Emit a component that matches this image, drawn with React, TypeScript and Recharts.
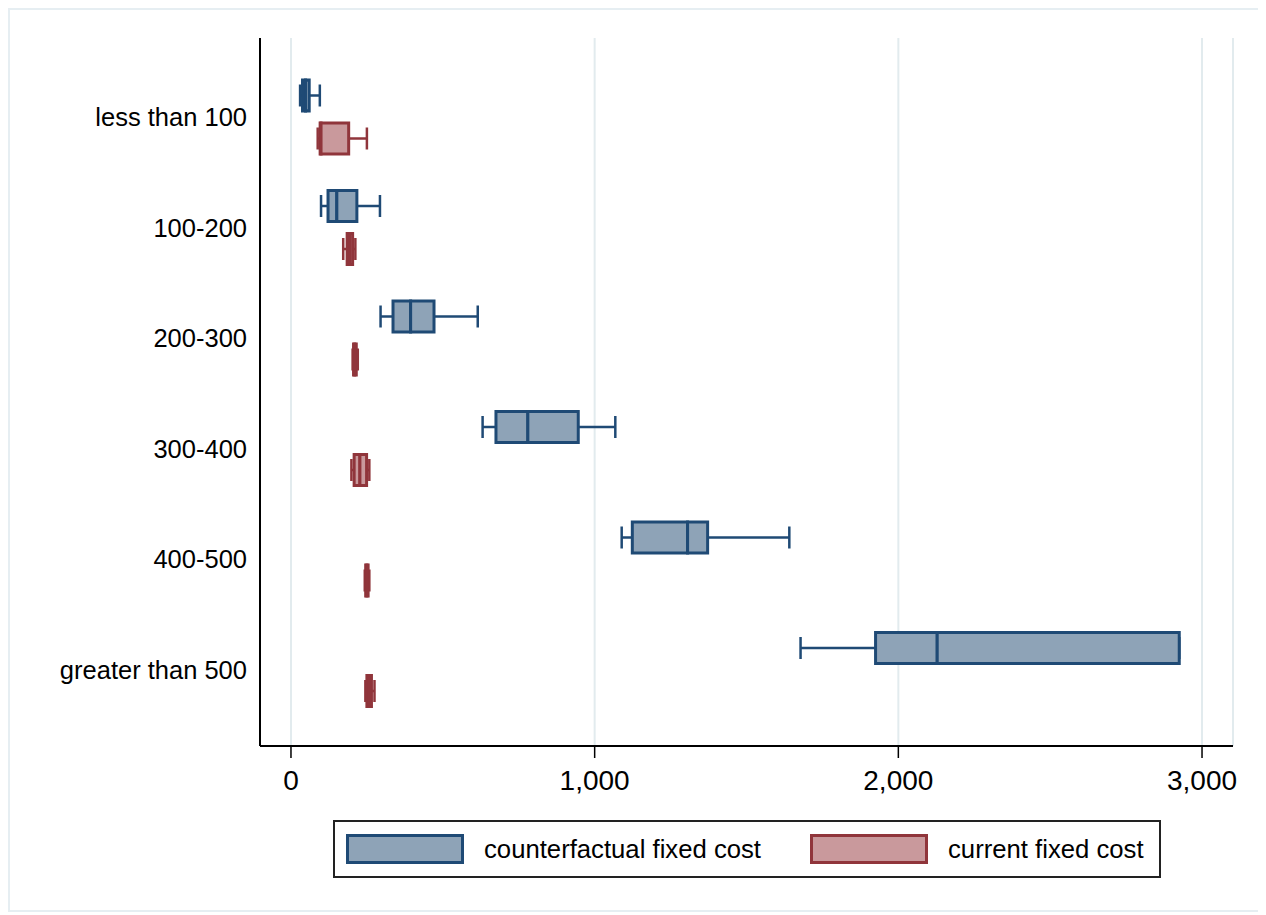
import React from 'react';
import { ComposedChart, Bar, XAxis, YAxis, CartesianGrid } from 'recharts';

// fixed cost by size group, box summaries (min / q1 / median / q3 / max)
const groups = ['less than 100', '100-200', '200-300', '300-400', '400-500', 'greater than 500'];

const cfMin = [30, 99, 295, 631, 1089, 1678];
const cfQ1 = [38, 122, 336, 675, 1124, 1925];
const cfMed = [48, 151, 394, 780, 1306, 2128];
const cfQ3 = [60, 217, 471, 946, 1372, 2925];
const cfMax = [95, 293, 615, 1068, 1641, 2925];

const curMin = [88, 172, 203, 199, 243, 245];
const curQ1 = [96, 185, 206, 208, 246, 250];
const curMed = [99, 193, 210, 227, 250, 258];
const curQ3 = [190, 203, 215, 249, 254, 265];
const curMax = [250, 212, 220, 258, 258, 275];

const xTicks = [0, 1000, 2000, 3000];

const CF_NAME = 'counterfactual fixed cost';
const CUR_NAME = 'current fixed cost';

const BLUE = { stroke: '#1f4a75', fill: '#8ea3b7' };
const RED = { stroke: '#90353b', fill: '#c9999c' };

const FONT = '"Liberation Sans", Arial, sans-serif';

// stacked segments: hidden base, low whisker, lower box, upper box, high whisker
const data = groups.map((g, i) => ({
  group: g,
  cfBase: cfMin[i],
  cfLow: cfQ1[i] - cfMin[i],
  cfBoxA: cfMed[i] - cfQ1[i],
  cfBoxB: cfQ3[i] - cfMed[i],
  cfHigh: cfMax[i] - cfQ3[i],
  curBase: curMin[i],
  curLow: curQ1[i] - curMin[i],
  curBoxA: curMed[i] - curQ1[i],
  curBoxB: curQ3[i] - curMed[i],
  curHigh: curMax[i] - curQ3[i],
}));

const CAP = 11;

const Empty = () => <g />;

const boxShape = (c: { stroke: string; fill: string }) => (p: any) => (
  <rect x={p.x} y={p.y} width={Math.max(p.width, 0)} height={p.height} fill={c.fill} stroke={c.stroke} strokeWidth={3} />
);

const whiskerShape = (c: { stroke: string }, side: 'low' | 'high') => (p: any) => {
  const cy = p.y + p.height / 2;
  const capX = side === 'low' ? p.x : p.x + p.width;
  return (
    <g stroke={c.stroke} strokeWidth={2.5}>
      <line x1={p.x} x2={p.x + p.width} y1={cy} y2={cy} />
      <line x1={capX} x2={capX} y1={cy - CAP} y2={cy + CAP} />
    </g>
  );
};

const fmt = (v: number) => v.toLocaleString('en-US');

function LegendItem({ color, label }: { color: { stroke: string; fill: string }; label: string }) {
  return (
    <div style={{ display: 'flex', alignItems: 'center' }}>
      <div style={{ width: 112, height: 24, background: color.fill, border: `3px solid ${color.stroke}` }} />
      <span style={{ marginLeft: 20, fontSize: 25.7, fontFamily: FONT, color: '#000' }}>{label}</span>
    </div>
  );
}

export default function App() {
  return (
    <div style={{ position: 'relative', width: 1252, height: 900, border: '2px solid #e6eef2', background: '#fff' }}>
      <div style={{ position: 'absolute', left: 0, top: 0 }}>
        <ComposedChart
          width={1250}
          height={800}
          data={data}
          layout="vertical"
          margin={{ top: 28, right: 27, left: 0, bottom: 4 }}
          barSize={31}
          barGap={12}
        >
          <CartesianGrid horizontal={false} stroke="#e2ebee" strokeWidth={2} />
          <XAxis
            type="number"
            domain={[-102, 3102]}
            ticks={xTicks}
            interval={0}
            allowDataOverflow
            tickFormatter={fmt}
            height={60}
            stroke="#000"
            axisLine={{ stroke: '#000', strokeWidth: 2 }}
            tickLine={{ stroke: '#000', strokeWidth: 1.5 }}
            tickSize={12}
            tickMargin={12}
            tick={{ fontSize: 28, fill: '#000', fontFamily: FONT }}
          />
          <YAxis
            type="category"
            dataKey="group"
            width={250}
            padding={{ top: 24, bottom: 21 }}
            axisLine={{ stroke: '#000', strokeWidth: 2 }}
            tickLine={false}
            tickMargin={7}
            tick={{ fontSize: 25.5, fill: '#000', fontFamily: FONT }}
          />
          <Bar dataKey="cfBase" stackId="cf" shape={Empty} isAnimationActive={false} />
          <Bar dataKey="cfLow" stackId="cf" shape={whiskerShape(BLUE, 'low')} isAnimationActive={false} />
          <Bar dataKey="cfBoxA" stackId="cf" shape={boxShape(BLUE)} isAnimationActive={false} />
          <Bar dataKey="cfBoxB" stackId="cf" shape={boxShape(BLUE)} isAnimationActive={false} />
          <Bar dataKey="cfHigh" stackId="cf" shape={whiskerShape(BLUE, 'high')} isAnimationActive={false} />
          <Bar dataKey="curBase" stackId="cur" shape={Empty} isAnimationActive={false} />
          <Bar dataKey="curLow" stackId="cur" shape={whiskerShape(RED, 'low')} isAnimationActive={false} />
          <Bar dataKey="curBoxA" stackId="cur" shape={boxShape(RED)} isAnimationActive={false} />
          <Bar dataKey="curBoxB" stackId="cur" shape={boxShape(RED)} isAnimationActive={false} />
          <Bar dataKey="curHigh" stackId="cur" shape={whiskerShape(RED, 'high')} isAnimationActive={false} />
        </ComposedChart>
      </div>
      <div
        style={{
          position: 'absolute',
          left: 323,
          top: 810,
          width: 824,
          height: 54,
          border: '2px solid #222',
          display: 'flex',
          alignItems: 'center',
          boxSizing: 'content-box',
        }}
      >
        <div style={{ position: 'absolute', left: 11 }}>
          <LegendItem color={BLUE} label={CF_NAME} />
        </div>
        <div style={{ position: 'absolute', left: 475 }}>
          <LegendItem color={RED} label={CUR_NAME} />
        </div>
      </div>
    </div>
  );
}
